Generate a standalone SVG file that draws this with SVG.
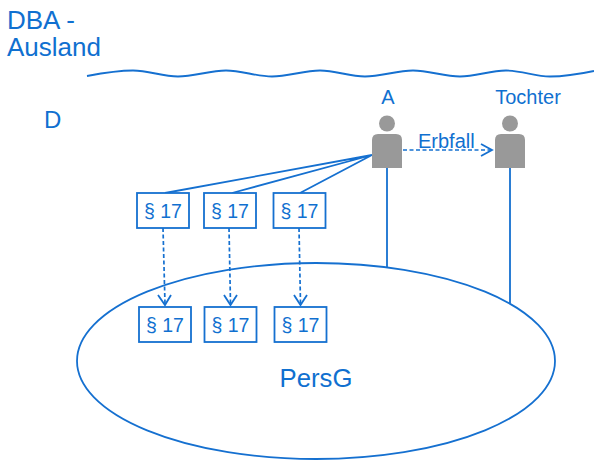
<svg xmlns="http://www.w3.org/2000/svg" width="594" height="460" viewBox="0 0 594 460">
<style>
text{font-family:"Liberation Sans",Arial,sans-serif;fill:#1070d0}
.l{fill:none;stroke:#1570d0;stroke-width:1.8}
.d{fill:none;stroke:#1570d0;stroke-width:1.7;stroke-dasharray:4 2.5}
.a{fill:none;stroke:#1570d0;stroke-width:1.8}
.b{fill:#fff;stroke:#1570d0;stroke-width:1.8}
.p{fill:#999}
.t{font-size:19.500px;text-anchor:middle}
</style>
<defs>
<g id="person"><circle cx="0" cy="-21" r="8"/><path d="M-15 23.500V-4.500Q-15-10.500-9-10.500H9Q15-10.500 15-4.500V23.500Z"/></g>
<g id="sec"><rect class="b" x="0" y="0" width="52" height="35"/><text class="t" x="26" y="25">§ 17</text></g>
</defs>
<text x="7" y="29" font-size="26">DBA -</text>
<text x="7" y="56" font-size="26">Ausland</text>
<text x="44" y="128" font-size="24">D</text>
<path id="wave" class="l" d="M87 76C103 73 118 70.500 133 70.500C149 70.500 162 76.500 178 76.500C194 76.500 210 70.500 226 70.500C242 70.500 256 76.500 272 76.500C288 76.500 304 70.500 320 70.500C336 70.500 349 76.500 365 76.500C381 76.500 397 70.500 413 70.500C429 70.500 444 76.500 460 76.500C476 76.500 490 70.500 506 70.500C522 70.500 535 76.500 550 76.500C565 76.500 580 74 594 71"/>
<g id="persg"><ellipse class="l" cx="316" cy="361" rx="239" ry="98"/><text x="316" y="387" font-size="25.700" text-anchor="middle">PersG</text></g>
<g id="connectors">
<path class="l" d="M372 155L165 193M372 155L232 193M372 155L300 193M387 168V268M510 168V303"/>
<path class="d" d="M163 228L165 304M229 228L230.500 304M299 228L300.500 304M403 150H491"/>
<path class="a" d="M158 295L165 305L171 295M224 295L230.500 305L237 295M294 295L300.500 305L307 295M481 144L492 150L481 156"/>
</g>
<g id="nodeA"><text x="388" y="104" font-size="20" text-anchor="middle">A</text><use href="#person" class="p" x="387" y="144.500"/></g>
<g id="nodeTochter"><text x="528" y="104" font-size="20" text-anchor="middle">Tochter</text><use href="#person" class="p" x="510" y="144.500"/></g>
<text id="erbfall" x="418" y="148" font-size="20">Erbfall</text>
<g id="s1"><use href="#sec" x="137" y="193"/></g>
<g id="s2"><use href="#sec" x="204" y="193"/></g>
<g id="s3"><use href="#sec" x="273.500" y="193"/></g>
<g id="s4"><use href="#sec" x="139" y="307"/></g>
<g id="s5"><use href="#sec" x="204.500" y="307"/></g>
<g id="s6"><use href="#sec" x="274.500" y="307"/></g>
</svg>
